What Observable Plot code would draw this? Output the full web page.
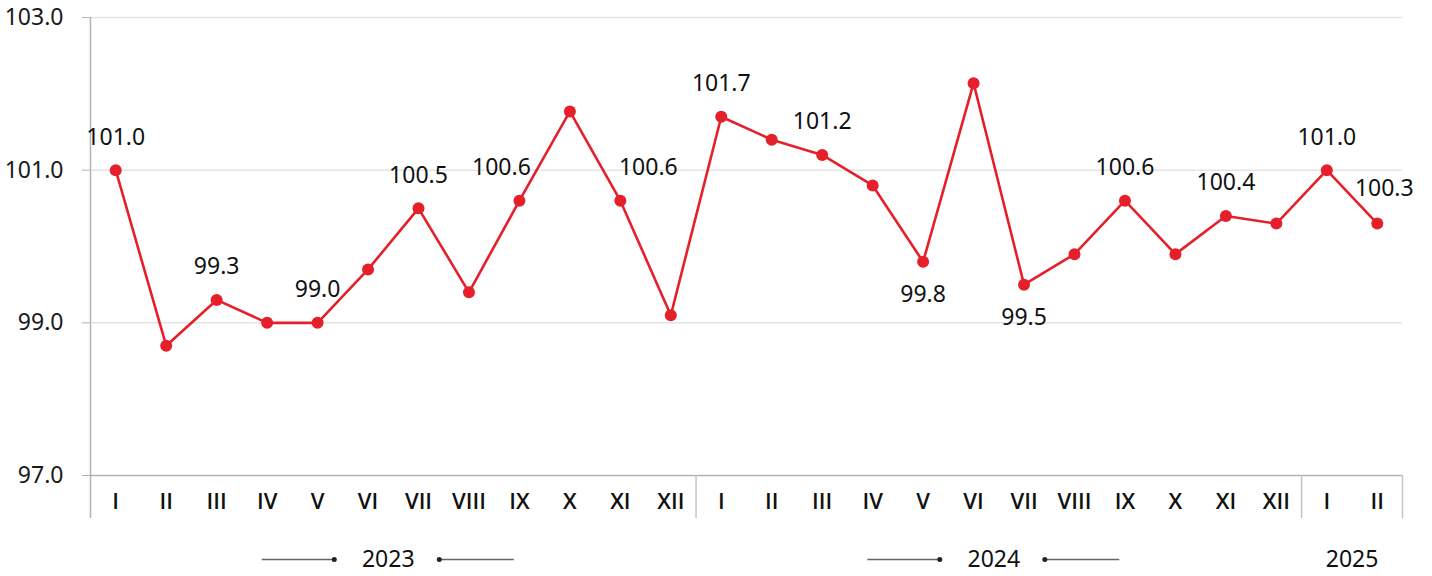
<!DOCTYPE html>
<html><head><meta charset="utf-8">
<script src="https://cdn.jsdelivr.net/npm/d3@7"></script>
<script src="https://cdn.jsdelivr.net/npm/@observablehq/plot@0.6"></script>
<style>
html,body{margin:0;padding:0;background:#fff;}
#chart svg{display:block;overflow:visible;}
</style></head><body><div id="chart"></div>
<script>
// ---- data ----
const years = ["2023", "2024", "2025"];
const monthsPerYear = [12, 12, 2];
const monthLabels = ["I","II","III","IV","V","VI","VII","VIII","IX","X","XI","XII"];
const values = [
  101.0, 98.7, 99.3, 99.0, 99.0, 99.7, 100.5, 99.4, 100.6, 101.77, 100.6, 99.1,
  101.7, 101.4, 101.2, 100.8, 99.8, 102.14, 99.5, 99.9, 100.6, 99.9, 100.4, 100.3,
  101.0, 100.3
];
const yTicks = [97, 99, 101, 103];
const labelledAbove = [0, 2, 4, 6, 8, 10, 12, 14, 20, 22, 24, 25];
const labelledBelow = [16, 18];
const decoratedYears = ["2023", "2024"];

// ---- styling ----
const red = "#e5202a";
const font = "'Noto Sans', 'Open Sans', sans-serif";
const monthFont = "'Open Sans', 'Noto Sans', sans-serif";
const labelNudgeX = {8: -18, 10: 28, 25: 7};
const labelNudgeY = {25: -35};

// ---- build rows ----
const rows = [];
const yearInfo = [];
let k = 0;
years.forEach((yr, yi) => {
  const start = k;
  for (let m = 0; m < monthsPerYear[yi]; m++) {
    rows.push({i: k, v: values[k], year: yr, month: monthLabels[m]});
    k++;
  }
  yearInfo.push({year: yr, c: start + (monthsPerYear[yi] - 1) / 2, end: k - 0.5});
});
const n = rows.length;
const deco = yearInfo.filter(d => decoratedYears.includes(d.year));
const plain = yearInfo.filter(d => !decoratedYears.includes(d.year));

function labelMarks(indices, baseDy) {
  const groups = new Map();
  for (const i of indices) {
    const dx = labelNudgeX[i] || 0;
    const dy = labelNudgeY[i] != null ? labelNudgeY[i] : baseDy;
    const key = dx + "," + dy;
    if (!groups.has(key)) groups.set(key, {dx, dy, data: []});
    groups.get(key).data.push(rows[i]);
  }
  return [...groups.values()].map(g => Plot.text(g.data, {
    x: "i", y: "v", text: d => d.v.toFixed(1), dx: g.dx, dy: g.dy,
    fontSize: 23, fill: "#111", lineAnchor: "middle", fontFamily: font
  }));
}

const yearDx = -5;
const chart = Plot.plot({
  width: 1432,
  height: 576,
  marginLeft: 90,
  marginRight: 30,
  marginTop: 17,
  marginBottom: 101,
  style: {fontFamily: font, background: "#fff", overflow: "visible"},
  x: {type: "linear", domain: [-0.5, n - 0.5], label: null},
  y: {domain: [97, 103], label: null},
  marks: [
    Plot.ruleY(yTicks.filter(t => t !== 97), {stroke: "#e4e4e4", strokeWidth: 1.5}),
    Plot.ruleY([97], {stroke: "#b3b3b3", strokeWidth: 1.5}),
    Plot.ruleX([-0.5], {stroke: "#b3b3b3", strokeWidth: 1.5, insetBottom: -43}),
    Plot.ruleX(yearInfo.map(d => d.end), {y1: 97, y2: 97, stroke: "#c4c4c4", strokeWidth: 1.5, insetBottom: -43}),
    Plot.axisY({ticks: yTicks, tickFormat: d => d.toFixed(1), tickSize: 8, tickPadding: 19, label: null,
      fontSize: 23, stroke: "#b3b3b3", fill: "#1a1a1a", fontFamily: font}),
    Plot.axisX(d3.range(n), {tickFormat: i => rows[i].month, tickSize: 0, tickPadding: 18, label: null,
      fontSize: 22, fontWeight: 600, fill: "#111", fontFamily: monthFont}),
    Plot.line(rows, {x: "i", y: "v", stroke: red, strokeWidth: 2.6}),
    Plot.dot(rows, {x: "i", y: "v", r: 6, fill: red}),
    ...labelMarks(labelledAbove, -33),
    ...labelMarks(labelledBelow, 33),
    Plot.text(deco, {x: "c", y: () => 97, text: "year", dx: yearDx, dy: 84, fontSize: 23, fill: "#111", lineAnchor: "middle", fontFamily: font}),
    Plot.text(plain, {x: "c", y: () => 97, text: "year", dy: 84, fontSize: 23, fill: "#111", lineAnchor: "middle", fontFamily: font}),
    Plot.ruleY(deco, {x1: "c", x2: "c", y: () => 97, dy: 84, dx: yearDx,
      insetLeft: -126, insetRight: 54, stroke: "#666", strokeWidth: 1.5}),
    Plot.ruleY(deco, {x1: "c", x2: "c", y: () => 97, dy: 84, dx: yearDx,
      insetLeft: 51, insetRight: -126, stroke: "#666", strokeWidth: 1.5}),
    Plot.dot(deco, {x: "c", y: () => 97, dx: yearDx - 54, dy: 84, r: 2.5, fill: "#222"}),
    Plot.dot(deco, {x: "c", y: () => 97, dx: yearDx + 51, dy: 84, r: 2.5, fill: "#222"})
  ]
});
document.getElementById("chart").appendChild(chart);
</script>
</body></html>
